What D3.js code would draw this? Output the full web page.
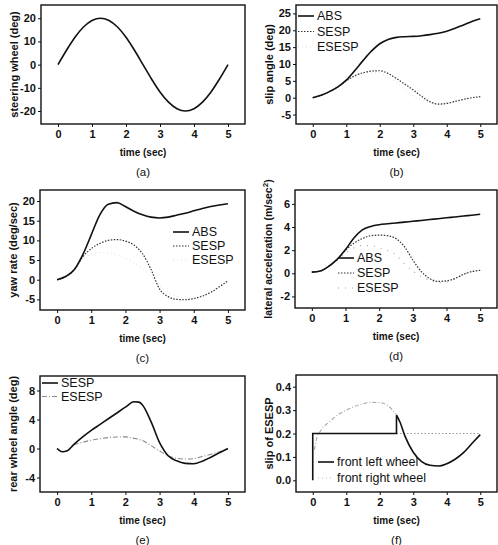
<!DOCTYPE html>
<html>
<head>
<meta charset="utf-8">
<script src="https://cdn.jsdelivr.net/npm/d3@7"></script>
<style>
  body { margin: 0; background: #fff; }
  svg { display: block; font-family: "Liberation Sans", Arial, sans-serif; }
  .tick text { font-size: 11px; font-weight: bold; fill: #111; }
  .tick line { stroke: #111; }
  .axis-label { font-size: 11px; font-weight: bold; fill: #111; }
  .caption { font-size: 11.5px; fill: #111; }
  .legend text { font-size: 12.5px; fill: #111; }
</style>
</head>
<body>
<svg width="498" height="545"></svg>
<script>
// ---- data ----
const xTicks = [0, 1, 2, 3, 4, 5];
const t = [0, 0.25, 0.5, 0.75, 1, 1.25, 1.5, 1.75, 2, 2.25, 2.5, 2.75, 3, 3.25, 3.5, 3.75, 4, 4.25, 4.5, 4.75, 5];

// (a) steering wheel
const steering = [0, 6.2, 11.8, 16.2, 19.0, 20.0, 19.0, 16.2, 11.8, 6.2, 0, -6.2, -11.8, -16.2, -19.0, -20.0, -19.0, -16.2, -11.8, -6.2, 0];

// (b) slip angle
const slipABS   = [0, 0.7, 1.8, 3.2, 5.2, 8.0, 11.0, 13.8, 16.0, 17.3, 17.9, 18.1, 18.2, 18.4, 18.7, 19.1, 19.7, 20.6, 21.6, 22.6, 23.4];
const slipSESP  = [0, 0.7, 1.8, 3.2, 5.0, 6.5, 7.4, 7.9, 8.0, 7.2, 5.7, 4.0, 2.3, 0.4, -1.2, -1.9, -1.7, -1.1, -0.5, 0.0, 0.3];
const slipESESP = [0, 0.7, 1.8, 3.2, 4.9, 6.2, 7.0, 7.4, 7.3, 6.2, 4.5, 2.5, 0.6, -0.8, -1.5, -1.8, -1.6, -1.1, -0.5, 0.0, 0.3];

// (c) yaw rate
const yawABS   = [0, 0.8, 2.5, 6.3, 11.4, 16.5, 19.2, 19.6, 18.6, 17.4, 16.5, 15.9, 15.7, 15.9, 16.4, 16.9, 17.5, 18.1, 18.6, 19.0, 19.3];
const yawSESP  = [0, 0.8, 2.5, 5.8, 7.9, 9.2, 10.0, 10.2, 9.8, 8.8, 6.6, 2.6, -2.4, -4.3, -5.0, -5.1, -4.8, -4.2, -3.2, -1.8, -0.3];
const yawESESP = [0, 0.8, 2.4, 5.3, 6.5, 6.9, 6.8, 6.3, 5.4, 4.2, 2.8, 1.0, -1.5, -3.2, -4.2, -4.7, -4.6, -4.0, -3.0, -1.6, -0.2];

// (d) lateral acceleration
const latABS   = [0.1, 0.2, 0.6, 1.2, 2.05, 3.05, 3.75, 4.05, 4.2, 4.28, 4.35, 4.42, 4.5, 4.57, 4.65, 4.72, 4.8, 4.87, 4.95, 5.02, 5.1];
const latSESP  = [0.1, 0.2, 0.6, 1.2, 2.0, 2.6, 3.0, 3.25, 3.3, 3.25, 3.0, 2.3, 1.15, 0.15, -0.45, -0.7, -0.65, -0.45, -0.1, 0.15, 0.25];
const latESESP = [0.1, 0.2, 0.55, 1.1, 1.75, 2.2, 2.4, 2.4, 2.2, 1.95, 1.6, 0.8, 0.2, -0.3, -0.6, -0.8, -0.75, -0.5, -0.1, 0.15, 0.25];

// (e) rear wheel angle
const tE = [0, 0.15, 0.3, 0.5, 0.75, 1, 1.25, 1.5, 1.75, 2, 2.25, 2.4, 2.5, 2.75, 3, 3.25, 3.5, 3.75, 4, 4.25, 4.5, 4.75, 5];
const rearSESP  = [0, -0.45, -0.3, 0.6, 1.6, 2.5, 3.3, 4.1, 4.9, 5.7, 6.45, 6.4, 6.0, 3.7, 0.8, -1.0, -1.7, -2.05, -2.1, -1.75, -1.2, -0.6, 0];
const rearESESP = [0, -0.45, -0.3, 0.5, 0.85, 1.15, 1.35, 1.5, 1.58, 1.6, 1.4, 1.25, 1.1, 0.4, -0.35, -1.0, -1.35, -1.45, -1.4, -1.1, -0.8, -0.45, -0.1];

// (f) slip of ESESP
const tLeftStep = [0, 0, 2.5, 2.5];
const leftStep  = [0, 0.2, 0.2, 0.278];
const tLeftDecay = [2.5, 2.6, 2.75, 3, 3.25, 3.5, 3.75, 4, 4.25, 4.5, 4.75, 5];
const leftDecay  = [0.278, 0.25, 0.19, 0.12, 0.08, 0.064, 0.061, 0.071, 0.09, 0.118, 0.157, 0.195];
const tRightRise = [0.05, 0.1, 0.25, 0.5, 0.75, 1, 1.25, 1.5, 1.75, 2, 2.25, 2.5];
const rightRise  = [0.13, 0.17, 0.215, 0.25, 0.28, 0.3, 0.316, 0.327, 0.333, 0.332, 0.318, 0.28];
const tRightFlat = [2.5, 5];
const rightFlat  = [0.2, 0.2];

// ---- styles ----
const solid = {stroke: '#111', width: 1.6, dash: null};
const dotted = {stroke: '#333', width: 1.2, dash: '1.5,1.5'};
const faint = {stroke: '#dedede', width: 1, dash: '1,3'};
const sparse = {stroke: '#aaa', width: 1.2, dash: '1,6'};
const grayDash = {stroke: '#8a8a8a', width: 1.1, dash: '5,2,1,2'};
const lightDash = {stroke: '#aaa', width: 1.1, dash: '4,2,1,2'};

const zip = (xs, ys) => xs.map((d, i) => [d, ys[i]]);

const svg = d3.select('svg');

const panels = [
  {left: 41, right: 245, top: 5, bottom: 124, yDomain: [-25.6, 25.7], yTicks: [-20, -10, 0, 10, 20],
   yLabel: 'steering wheel (deg)', caption: '(a)',
   series: [{d: zip(t, steering), s: solid}], legend: null},
  {left: 296, right: 497, top: 5, bottom: 124, yDomain: [-7.8, 27.5], yTicks: [-5, 0, 5, 10, 15, 20, 25],
   yLabel: 'slip angle (deg)', caption: '(b)',
   series: [{d: zip(t, slipESESP), s: faint}, {d: zip(t, slipSESP), s: dotted}, {d: zip(t, slipABS), s: solid}],
   legend: {x: 298, y: 16, step: 15.5, items: [['ABS', solid], ['SESP', dotted], ['ESESP', faint]]}},
  {left: 40, right: 245, top: 190, bottom: 310, yDomain: [-7.7, 22.8], yTicks: [-5, 0, 5, 10, 15, 20],
   yLabel: 'yaw rate (deg/sec)', caption: '(c)',
   series: [{d: zip(t, yawESESP), s: faint}, {d: zip(t, yawSESP), s: dotted}, {d: zip(t, yawABS), s: solid}],
   legend: {x: 173, y: 232, step: 14, items: [['ABS', solid], ['SESP', dotted], ['ESESP', faint]]}},
  {left: 295, right: 497, top: 190, bottom: 308, yDomain: [-3, 7.2], yTicks: [-2, 0, 2, 4, 6],
   yLabel: 'lateral acceleration (m/sec', sup: '2', supEnd: ')', caption: '(d)', labelSize: 10.5,
   series: [{d: zip(t, latESESP), s: sparse}, {d: zip(t, latSESP), s: dotted}, {d: zip(t, latABS), s: solid}],
   legend: {x: 338, y: 258, step: 15, items: [['ABS', solid], ['SESP', dotted], ['ESESP', sparse]]}},
  {left: 40, right: 245, top: 376, bottom: 492, yDomain: [-6, 10], yTicks: [-4, 0, 4, 8],
   yLabel: 'rear wheel angle (deg)', caption: '(e)',
   series: [{d: zip(tE, rearESESP), s: grayDash}, {d: zip(tE, rearSESP), s: solid}],
   legend: {x: 42, y: 383, step: 13.5, items: [['SESP', solid], ['ESESP', grayDash]]}},
  {left: 296, right: 497, top: 375, bottom: 492, yDomain: [-0.05, 0.45], yTicks: [0, 0.1, 0.2, 0.3, 0.4],
   yLabel: 'slip of ESESP', caption: '(f)', fmt: d3.format('.1f'),
   series: [{d: zip(tRightRise, rightRise), s: lightDash}, {d: zip(tRightFlat, rightFlat), s: {stroke: '#999', width: 1.1, dash: '1.5,2'}},
            {d: zip(tLeftStep, leftStep), s: solid, linear: true}, {d: zip(tLeftDecay, leftDecay), s: solid}],
   legend: {x: 318, y: 462, step: 16, items: [['front left wheel', solid], ['front right wheel', {stroke: '#bbb', width: 1.1, dash: '1,3'}]]}}
];

const drawPanel = p => {
  const xScale = d3.scaleLinear().domain([-0.5, 5.5]).range([p.left, p.right]);
  const yScale = d3.scaleLinear().domain(p.yDomain).range([p.bottom, p.top]);
  const fmt = p.fmt || (d => String(d));
  const g = svg.append('g');

  const xAxisG = g.append('g')
    .attr('transform', `translate(0,${p.bottom})`)
    .call(d3.axisBottom(xScale).tickValues(xTicks).tickSize(3).tickPadding(3).tickFormat(d => String(d)));
  xAxisG.select('.domain').remove();

  const yAxisG = g.append('g')
    .attr('transform', `translate(${p.left},0)`)
    .call(d3.axisLeft(yScale).tickValues(p.yTicks).tickSize(3).tickPadding(2).tickFormat(fmt));
  yAxisG.select('.domain').remove();

  g.append('rect')
    .attr('x', p.left).attr('y', p.top)
    .attr('width', p.right - p.left).attr('height', p.bottom - p.top)
    .attr('fill', 'none').attr('stroke', '#111').attr('stroke-width', 1.4);

  const clipId = 'clip' + p.caption.replace(/\W/g, '');
  svg.append('clipPath').attr('id', clipId).append('rect')
    .attr('x', p.left).attr('y', p.top)
    .attr('width', p.right - p.left).attr('height', p.bottom - p.top);

  const plot = g.append('g').attr('clip-path', `url(#${clipId})`);
  p.series.forEach(sr => {
    const line = d3.line()
      .x(d => xScale(d[0]))
      .y(d => yScale(d[1]))
      .curve(sr.linear ? d3.curveLinear : d3.curveMonotoneX);
    plot.append('path')
      .attr('d', line(sr.d))
      .attr('fill', 'none')
      .attr('stroke', sr.s.stroke)
      .attr('stroke-width', sr.s.width)
      .attr('stroke-dasharray', sr.s.dash);
  });

  if (p.legend) {
    const lg = g.append('g').attr('class', 'legend');
    p.legend.items.forEach(([name, s], i) => {
      const yy = p.legend.y + i * p.legend.step;
      lg.append('line')
        .attr('x1', p.legend.x).attr('x2', p.legend.x + 16)
        .attr('y1', yy).attr('y2', yy)
        .attr('stroke', s.stroke).attr('stroke-width', s.width)
        .attr('stroke-dasharray', s.dash);
      lg.append('text')
        .attr('x', p.legend.x + 19).attr('y', yy)
        .attr('dy', '0.35em')
        .text(name);
    });
  }

  const midX = (p.left + p.right) / 2;
  const midY = (p.top + p.bottom) / 2;
  const yl = g.append('text')
    .attr('class', 'axis-label')
    .attr('transform', `translate(${p.left - 27},${midY}) rotate(-90)`)
    .attr('text-anchor', 'middle')
    .attr('dy', '0.35em')
    .style('font-size', (p.labelSize || 11) + 'px')
    .text(p.yLabel);
  if (p.sup) {
    yl.append('tspan').attr('baseline-shift', 'super').style('font-size', '8px').text(p.sup);
    yl.append('tspan').text(p.supEnd);
  }

  g.append('text')
    .attr('class', 'axis-label')
    .attr('x', midX).attr('y', p.bottom + 28)
    .attr('dy', '0.35em')
    .attr('text-anchor', 'middle')
    .style('font-size', '10px')
    .text('time (sec)');

  g.append('text')
    .attr('class', 'caption')
    .attr('x', midX).attr('y', p.bottom + 48)
    .attr('dy', '0.35em')
    .attr('text-anchor', 'middle')
    .text(p.caption);
};

panels.forEach(drawPanel);
</script>
</body>
</html>
